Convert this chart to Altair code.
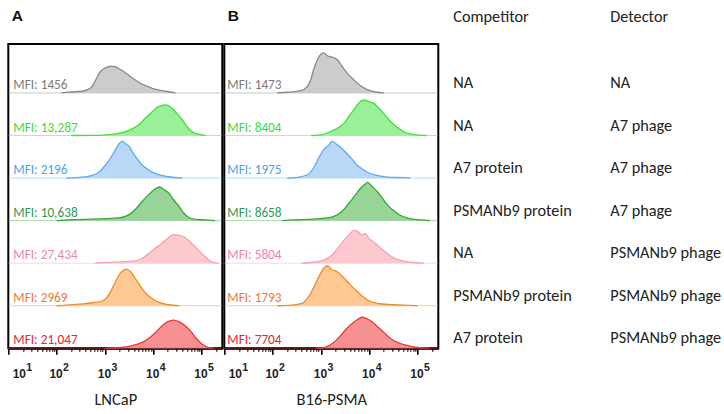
import altair as alt
import pandas as pd

# ---- conditions (top row to bottom row) ----
competitor = ["NA", "NA", "A7 protein", "PSMANb9 protein", "NA", "PSMANb9 protein", "A7 protein"]
detector = ["NA", "A7 phage", "A7 phage", "A7 phage", "PSMANb9 phage", "PSMANb9 phage", "PSMANb9 phage"]
mfi_lncap = [1456, 13287, 2196, 10638, 27434, 2969, 21047]
mfi_b16 = [1473, 8404, 1975, 8658, 5804, 1793, 7704]
cell_lines = ["LNCaP", "B16-PSMA"]
panel_letters = ["A", "B"]
table_headers = ["Competitor", "Detector"]
decades = [1, 2, 3, 4, 5]

# ---- histogram traces: log10 fluorescence and count relative to row height ----
lncap_log = [
    [2.10, 2.26, 2.53, 2.71, 2.81, 2.91, 3.01, 3.12, 3.22, 3.32, 3.43, 3.57, 3.70, 3.84, 3.98, 4.18, 4.39, 4.46],
    [2.30, 2.95, 3.22, 3.50, 3.70, 3.84, 3.98, 4.08, 4.18, 4.25, 4.32, 4.39, 4.49, 4.60, 4.70, 4.80, 4.94, 5.08],
    [2.20, 2.47, 2.74, 2.88, 2.98, 3.08, 3.19, 3.29, 3.36, 3.43, 3.50, 3.57, 3.67, 3.77, 3.87, 3.98, 4.12, 4.32, 4.60],
    [2.00, 2.33, 3.29, 3.50, 3.63, 3.77, 3.87, 3.98, 4.08, 4.13, 4.22, 4.32, 4.42, 4.53, 4.63, 4.73, 4.87, 5.08, 5.28],
    [2.80, 3.02, 3.57, 3.77, 3.91, 4.05, 4.15, 4.25, 4.36, 4.42, 4.53, 4.63, 4.73, 4.84, 4.94, 5.08, 5.18, 5.28, 5.35],
    [2.00, 2.47, 2.74, 2.95, 3.02, 3.12, 3.22, 3.32, 3.39, 3.44, 3.53, 3.63, 3.74, 3.84, 3.98, 4.12, 4.32, 4.53],
    [3.00, 3.29, 3.57, 3.84, 4.01, 4.15, 4.25, 4.36, 4.42, 4.53, 4.66, 4.77, 4.87, 5.01, 5.15, 5.25],
]
lncap_count = [
    [0.0, 0.02, 0.04, 0.12, 0.31, 0.51, 0.59, 0.63, 0.61, 0.55, 0.47, 0.35, 0.25, 0.17, 0.11, 0.055, 0.016, 0.0],
    [0.0, 0.01, 0.04, 0.12, 0.25, 0.41, 0.56, 0.66, 0.71, 0.72, 0.70, 0.64, 0.52, 0.37, 0.21, 0.094, 0.03, 0.0],
    [0.0, 0.016, 0.063, 0.14, 0.26, 0.41, 0.61, 0.80, 0.87, 0.80, 0.75, 0.61, 0.45, 0.31, 0.22, 0.14, 0.078, 0.031, 0.0],
    [0.0, 0.02, 0.063, 0.14, 0.26, 0.45, 0.57, 0.69, 0.77, 0.79, 0.73, 0.65, 0.49, 0.34, 0.18, 0.078, 0.031, 0.016, 0.0],
    [0.0, 0.016, 0.047, 0.11, 0.23, 0.36, 0.44, 0.54, 0.64, 0.67, 0.66, 0.62, 0.54, 0.42, 0.30, 0.15, 0.047, 0.008, 0.0],
    [0.0, 0.039, 0.07, 0.117, 0.164, 0.336, 0.57, 0.765, 0.84, 0.86, 0.80, 0.64, 0.45, 0.30, 0.164, 0.078, 0.023, 0.0],
    [0.0, 0.016, 0.063, 0.18, 0.33, 0.49, 0.59, 0.65, 0.66, 0.625, 0.53, 0.41, 0.26, 0.10, 0.016, 0.0],
]
b16_log = [
    [2.10, 2.31, 2.58, 2.72, 2.79, 2.86, 2.93, 2.99, 3.06, 3.13, 3.23, 3.34, 3.44, 3.54, 3.68, 3.82, 3.96, 4.16, 4.30],
    [2.80, 2.99, 3.20, 3.34, 3.48, 3.58, 3.68, 3.78, 3.89, 3.99, 4.09, 4.20, 4.30, 4.44, 4.58, 4.71, 4.85, 5.06, 5.19],
    [2.30, 2.51, 2.72, 2.86, 2.96, 3.06, 3.17, 3.23, 3.34, 3.44, 3.54, 3.65, 3.75, 3.85, 3.99, 4.16, 4.37, 4.71, 4.85],
    [2.20, 2.44, 2.99, 3.27, 3.44, 3.58, 3.72, 3.82, 3.92, 3.97, 4.06, 4.16, 4.27, 4.37, 4.51, 4.64, 4.78, 5.06, 5.26],
    [2.60, 2.79, 3.06, 3.23, 3.37, 3.48, 3.58, 3.68, 3.78, 3.85, 3.92, 3.99, 4.09, 4.23, 4.37, 4.51, 4.71, 4.92, 5.13],
    [2.10, 2.31, 2.62, 2.75, 2.86, 2.96, 3.06, 3.13, 3.23, 3.30, 3.37, 3.48, 3.61, 3.75, 3.89, 4.03, 4.23, 4.51, 4.85, 5.00],
    [2.90, 3.06, 3.27, 3.41, 3.54, 3.68, 3.78, 3.85, 3.96, 4.06, 4.16, 4.30, 4.44, 4.58, 4.75, 4.92, 5.13, 5.25],
]
b16_count = [
    [0.0, 0.016, 0.055, 0.156, 0.31, 0.59, 0.78, 0.90, 0.94, 0.875, 0.84, 0.78, 0.625, 0.47, 0.31, 0.17, 0.078, 0.016, 0.0],
    [0.0, 0.016, 0.094, 0.17, 0.29, 0.45, 0.60, 0.76, 0.836, 0.80, 0.76, 0.64, 0.52, 0.33, 0.195, 0.094, 0.039, 0.008, 0.0],
    [0.0, 0.016, 0.078, 0.26, 0.49, 0.67, 0.78, 0.86, 0.78, 0.69, 0.57, 0.44, 0.30, 0.22, 0.125, 0.063, 0.023, 0.008, 0.0],
    [0.0, 0.016, 0.047, 0.10, 0.22, 0.41, 0.61, 0.76, 0.86, 0.90, 0.80, 0.69, 0.53, 0.375, 0.23, 0.125, 0.063, 0.016, 0.0],
    [0.0, 0.016, 0.07, 0.19, 0.38, 0.54, 0.67, 0.77, 0.73, 0.66, 0.70, 0.59, 0.50, 0.36, 0.23, 0.125, 0.047, 0.016, 0.0],
    [0.0, 0.008, 0.063, 0.22, 0.45, 0.69, 0.88, 0.94, 0.84, 0.82, 0.77, 0.65, 0.49, 0.34, 0.195, 0.10, 0.047, 0.023, 0.008, 0.0],
    [0.0, 0.016, 0.14, 0.30, 0.47, 0.61, 0.69, 0.73, 0.69, 0.625, 0.52, 0.375, 0.23, 0.14, 0.078, 0.031, 0.008, 0.0],
]

# ---- palette (same order as the conditions) ----
fill_colors = ["#c9c9c9", "#93ef93", "#b5d5f7", "#92d192", "#fcc6cb", "#fdc58c", "#f78b8b"]
line_colors = ["#8a8a8a", "#3ee03e", "#5eaaf0", "#3aa43a", "#f6a3ad", "#f28c28", "#e83a3a"]
text_colors = ["#7a7a7a", "#3bdc3b", "#4aa3ee", "#2e9a4c", "#ee86a6", "#f07834", "#e8242c"]

TEXT_FONT = "Carlito, Lato"
NUM_FONT = "Liberation Sans"
W, H = 214, 304.3
N_ROWS = len(competitor)
series_names = [f"{c} / {d}" for c, d in zip(competitor, detector)]


def fmt_mfi(v):
    return f"MFI: {v:,}" if v >= 10000 else f"MFI: {v}"


curve_rows, label_rows = [], []
for cell, logs, counts, mfis in [
    (cell_lines[0], lncap_log, lncap_count, mfi_lncap),
    (cell_lines[1], b16_log, b16_count, mfi_b16),
]:
    for i in range(N_ROWS):
        row = N_ROWS - 1 - i
        for lx, h in zip(logs[i], counts[i]):
            curve_rows.append({"cell": cell, "series": series_names[i], "row": row,
                               "intensity": 10 ** lx, "top": row + h})
        label_rows.append({"cell": cell, "series": series_names[i], "row": row,
                           "label": fmt_mfi(mfis[i])})
curves = pd.DataFrame(curve_rows)
labels = pd.DataFrame(label_rows)

x_max = 10 ** 5.43
tick_values = [m * 10 ** e for e in decades for m in range(1, 10) if m * 10 ** e <= x_max]
is_decade = "abs(log(datum.value) / LN10 - round(log(datum.value) / LN10)) < 0.001"

y_scale = alt.Scale(domain=[0, 7.15], nice=False, zero=False)
fill_scale = alt.Scale(domain=series_names, range=fill_colors)
stroke_scale = alt.Scale(domain=series_names, range=line_colors)
text_scale = alt.Scale(domain=series_names, range=text_colors)


def x_enc(title):
    return alt.X(
        "intensity:Q",
        scale=alt.Scale(type="log", domain=[10, x_max], nice=False),
        title=title,
        axis=alt.Axis(
            values=tick_values,
            labelExpr=f"{is_decade} ? '10' : ''",
            tickSize={"condition": {"test": is_decade, "value": 6}, "value": 3},
            tickWidth={"condition": {"test": is_decade, "value": 1.6}, "value": 1.1},
            labelOffset={"condition": {"test": "datum.value == 10", "value": 10.5}, "value": -1},
            labelFont=NUM_FONT, labelFontWeight="bold", labelFontSize=12, labelColor="#222222",
            labelPadding=14.5, labelOverlap=False, labelFlush=False, labelBound=False,
            domainColor="black", domainWidth=2, tickColor="black",
            titleFont=TEXT_FONT, titleFontSize=16.5, titleFontWeight="normal",
            titleColor="#222222", titlePadding=12, grid=False,
        ),
    )


def panel(cell, letter, text_x):
    cdata = curves[curves["cell"] == cell]
    ldata = labels[labels["cell"] == cell]
    x = x_enc(cell)

    baselines = alt.Chart(ldata).mark_rule(strokeWidth=1, opacity=0.45).encode(
        y=alt.Y("row:Q", scale=y_scale, axis=None),
        stroke=alt.Stroke("series:N", scale=stroke_scale, legend=None),
    )
    fills = alt.Chart(cdata).mark_area(interpolate="monotone", opacity=0.95).encode(
        x=x,
        y=alt.Y("top:Q", scale=y_scale, axis=None),
        y2="row:Q",
        fill=alt.Fill("series:N", scale=fill_scale, legend=None),
    )
    outlines = alt.Chart(cdata).mark_line(interpolate="monotone", strokeWidth=1.3).encode(
        x=x,
        y=alt.Y("top:Q", scale=y_scale, axis=None),
        stroke=alt.Stroke("series:N", scale=stroke_scale, legend=None),
    )
    mfi_text = alt.Chart(ldata).mark_text(
        align="left", baseline="alphabetic", dy=-4, font=TEXT_FONT, fontSize=13.3
    ).encode(
        x=alt.value(text_x),
        y=alt.Y("row:Q", scale=y_scale, axis=None),
        text="label:N",
        color=alt.Color("series:N", scale=text_scale, legend=None),
    )
    exps = pd.DataFrame({"intensity": [10 ** e for e in decades], "exp": [str(e) for e in decades]})
    sup_style = dict(align="left", baseline="alphabetic", font=NUM_FONT, fontWeight="bold",
                     fontSize=10.5, color="#222222")
    sup_first = alt.Chart(exps[exps["exp"] == "1"]).mark_text(dx=18, **sup_style).encode(
        x=x, y=alt.value(H + 22.5), text="exp:N")
    sup_rest = alt.Chart(exps[exps["exp"] != "1"]).mark_text(dx=6.5, **sup_style).encode(
        x=x, y=alt.value(H + 22.5), text="exp:N")
    tag = alt.Chart(pd.DataFrame({"letter": [letter]})).mark_text(
        align="left", baseline="middle", font=NUM_FONT, fontWeight="bold", fontSize=15.5,
        color="#111111"
    ).encode(x=alt.value(3.5), y=alt.value(-28), text="letter:N")

    return alt.layer(baselines, fills, outlines, mfi_text, sup_first, sup_rest, tag).properties(
        width=W, height=H, view=alt.ViewBackground(stroke="black", strokeWidth=2)
    )


table_df = pd.DataFrame({
    "row": [N_ROWS - 1 - i for i in range(N_ROWS)],
    "competitor": competitor,
    "detector": detector,
})
cell_style = dict(align="left", baseline="middle", dy=-10, font=TEXT_FONT, fontSize=16.3,
                  color="#222222")
col_competitor = alt.Chart(table_df).mark_text(**cell_style).encode(
    x=alt.value(13), y=alt.Y("row:Q", scale=y_scale, axis=None), text="competitor:N")
col_detector = alt.Chart(table_df).mark_text(**cell_style).encode(
    x=alt.value(170), y=alt.Y("row:Q", scale=y_scale, axis=None), text="detector:N")
head_style = dict(align="left", baseline="middle", font=TEXT_FONT, fontSize=16.3, color="#222222")
head_competitor = alt.Chart(pd.DataFrame({"h": [table_headers[0]]})).mark_text(**head_style).encode(
    x=alt.value(13), y=alt.value(-27), text="h:N")
head_detector = alt.Chart(pd.DataFrame({"h": [table_headers[1]]})).mark_text(**head_style).encode(
    x=alt.value(170), y=alt.value(-27), text="h:N")
table = alt.layer(col_competitor, col_detector, head_competitor, head_detector).properties(
    width=272, height=H
)

chart = alt.hconcat(
    panel(cell_lines[0], panel_letters[0], 5),
    panel(cell_lines[1], panel_letters[1], 3),
    table,
    spacing=-2,
).properties(
    padding={"left": 6.3, "top": 8, "right": 0, "bottom": 0},
    background="white",
).configure_view(stroke="transparent")

chart.save("out.html", embed_options={"renderer": "svg", "actions": False})
